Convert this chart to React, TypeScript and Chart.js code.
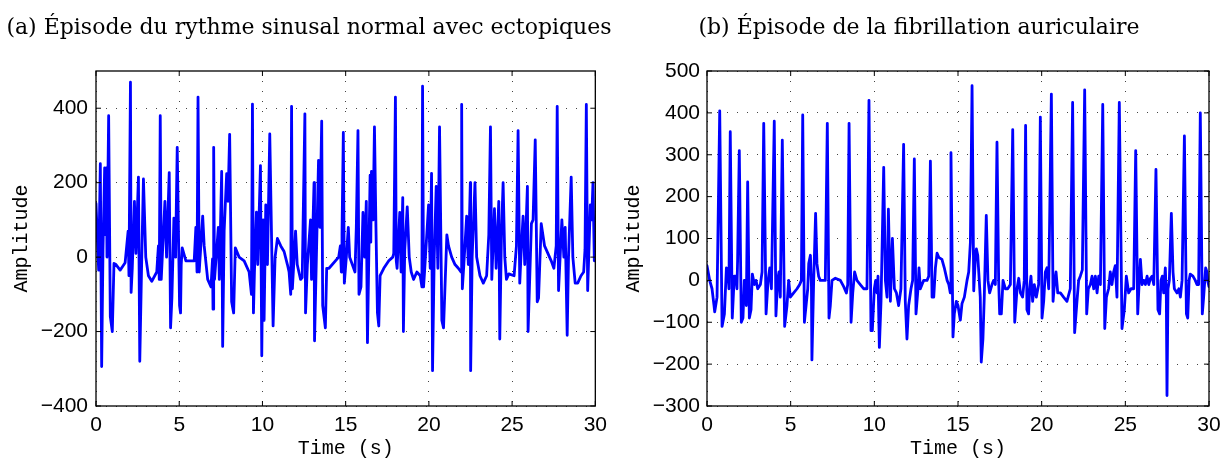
import React, { useEffect, useRef } from 'react';
import { Chart, registerables } from 'chart.js';

Chart.register(...registerables);

const titleA = '(a) Épisode du rythme sinusal normal avec ectopiques';
const titleB = '(b) Épisode de la fibrillation auriculaire';
const xLabel = 'Time (s)';
const yLabel = 'Amplitude';

const xTicks = [0, 5, 10, 15, 20, 25, 30];
const leftYTicks = [-400, -200, 0, 200, 400];
const rightYTicks = [-300, -200, -100, 0, 100, 200, 300, 400, 500];

const leftTime = [
  0, 0.16, 0.26, 0.34, 0.42, 0.52, 0.58, 0.62, 0.66, 0.76,
  0.86, 0.98, 1.08, 1.2, 1.45, 1.6, 1.75, 1.93, 1.98, 2.07,
  2.11, 2.18, 2.31, 2.4, 2.55, 2.63, 2.75, 2.85, 2.99, 3.15,
  3.35, 3.65, 3.75, 3.8, 3.86, 3.92, 4.14, 4.24, 4.4, 4.48,
  4.56, 4.68, 4.78, 4.88, 5.02, 5.08, 5.12, 5.18, 5.4, 5.9,
  6.0, 6.07, 6.13, 6.2, 6.41, 6.5, 6.71, 6.91, 7.0, 7.03,
  7.07, 7.12, 7.35, 7.41, 7.55, 7.61, 7.7, 7.85, 7.93, 8.03,
  8.15, 8.27, 8.37, 8.6, 8.9, 9.2, 9.34, 9.4, 9.46, 9.52,
  9.64, 9.72, 9.88, 9.96, 10.04, 10.1, 10.2, 10.3, 10.44, 10.64,
  10.76, 10.9, 11.1, 11.3, 11.5, 11.6, 11.7, 11.75, 11.8, 11.99,
  12.09, 12.29, 12.39, 12.55, 12.59, 12.7, 12.89, 12.95, 13.1, 13.13,
  13.37, 13.45, 13.56, 13.62, 13.78, 13.86, 14.0, 14.58, 14.68, 14.74,
  14.78, 14.86, 14.92, 15.04, 15.16, 15.24, 15.4, 15.56, 15.64, 15.74,
  15.8, 15.92, 16.04, 16.14, 16.24, 16.31, 16.39, 16.47, 16.51, 16.55,
  16.65, 16.73, 16.82, 16.91, 16.99, 17.07, 17.29, 17.59, 17.83, 17.89,
  17.99, 18.04, 18.09, 18.25, 18.33, 18.43, 18.47, 18.55, 18.7, 18.82,
  18.94, 19.08, 19.28, 19.48, 19.58, 19.62, 19.68, 19.74, 19.98, 20.08,
  20.16, 20.22, 20.32, 20.44, 20.54, 20.64, 20.78, 20.88, 21.08, 21.18,
  21.37, 21.57, 21.77, 21.93, 21.97, 22.01, 22.1, 22.27, 22.37, 22.49,
  22.51, 22.6, 22.77, 22.87, 23.07, 23.27, 23.47, 23.6, 23.7, 23.78,
  23.94, 24.04, 24.2, 24.26, 24.36, 24.46, 24.56, 24.66, 24.8, 25.12,
  25.26, 25.36, 25.46, 25.56, 25.66, 25.76, 25.92, 25.96, 26.16, 26.26,
  26.39, 26.51, 26.59, 26.75, 26.95, 27.15, 27.35, 27.51, 27.65, 27.71,
  27.79, 27.99, 28.11, 28.19, 28.31, 28.39, 28.55, 28.65, 28.79, 28.94,
  29.14, 29.3, 29.38, 29.46, 29.54, 29.7, 29.78, 29.86, 29.94, 30,
];
const leftAmp = [
  144, -35, 251, -294, 20, 240, 60, 240, 0, 380,
  -160, -200, -17, -20, -35, -25, -15, 70, -50, 470,
  -95, -30, 150, 10, 215, -280, 0, 210, 0, -50,
  -65, -40, 30, -60, 380, -60, 150, 0, 227, -190,
  -110, 105, 0, 295, -130, -150, -20, 25, -10, -10,
  80, -40, 430, -40, 110, 30, -60, -80, -5, -140,
  295, -60, 80, -60, 230, -240, 70, 224, 150, 330,
  -120, -150, 25, 0, -10, -40, -100, 411, -150, -40,
  121, -20, 246, -265, 100, -170, 140, -20, 331, -185,
  0, 50, 30, 15, -20, -40, -100, 405, -85, 70,
  -20, -60, -55, 385, -150, -20, 100, -60, 200, -225,
  260, 80, 365, -130, -190, -30, -30, 0, 30, -40,
  60, 335, -70, 0, 80, 0, -20, -40, 80, 340,
  -100, -80, 120, 0, 150, -230, 0, 220, 40, 230,
  100, 350, 80, -150, -185, -50, -30, -10, 0, 10,
  430, -10, -30, 120, -40, 160, -200, 20, 135, 0,
  -40, -60, -40, -50, -80, 459, -80, -40, 140, -30,
  225, -305, 0, 190, -30, 350, -170, -190, 60, 30,
  0, -20, -30, -40, 410, -85, -20, 110, -20, 200,
  -305, 0, 200, 0, -50, -70, -50, 60, 350, -60,
  130, -30, 150, -220, 60, 200, 0, -60, -45, -50,
  30, 340, -70, 30, 110, -20, 190, -200, 90, 100,
  315, -120, -110, 90, 30, 10, -10, -30, 30, 405,
  -90, 100, 0, 80, -210, 0, 215, 0, -70, -70,
  -50, -40, 20, 410, -90, 140, 100, 200, -10, 0,
];

const rightTime = [
  0, 0.16, 0.3, 0.42, 0.46, 0.6, 0.76, 0.9, 1.04, 1.16,
  1.25, 1.31, 1.39, 1.51, 1.63, 1.73, 1.79, 1.83, 1.93, 2.05,
  2.15, 2.23, 2.31, 2.35, 2.43, 2.53, 2.63, 2.71, 2.83, 2.93,
  3.03, 3.19, 3.29, 3.39, 3.53, 3.65, 3.75, 3.85, 4.02, 4.12,
  4.22, 4.3, 4.38, 4.5, 4.64, 4.78, 4.88, 4.98, 5.18, 5.38,
  5.54, 5.64, 5.72, 5.82, 5.92, 6.02, 6.08, 6.18, 6.24, 6.27,
  6.37, 6.49, 6.57, 6.67, 6.77, 7.07, 7.19, 7.29, 7.37, 7.47,
  7.67, 7.97, 8.17, 8.33, 8.41, 8.49, 8.61, 8.71, 8.82, 8.96,
  9.16, 9.26, 9.36, 9.56, 9.68, 9.8, 9.88, 10.0, 10.08, 10.16,
  10.22, 10.3, 10.4, 10.56, 10.66, 10.76, 10.84, 10.96, 11.08, 11.2,
  11.32, 11.45, 11.59, 11.75, 11.85, 11.95, 12.05, 12.19, 12.29, 12.39,
  12.49, 12.61, 12.67, 12.75, 12.85, 12.95, 13.15, 13.25, 13.35, 13.45,
  13.55, 13.65, 13.75, 13.85, 14.04, 14.18, 14.35, 14.45, 14.54, 14.58,
  14.7, 14.78, 14.9, 15.0, 15.14, 15.24, 15.38, 15.54, 15.64, 15.74,
  15.84, 15.94, 16.04, 16.1, 16.18, 16.24, 16.33, 16.39, 16.49, 16.57,
  16.69, 16.79, 16.89, 17.03, 17.13, 17.23, 17.33, 17.43, 17.49, 17.59,
  17.69, 17.83, 17.97, 18.13, 18.27, 18.39, 18.53, 18.63, 18.73, 18.86,
  18.96, 19.04, 19.12, 19.22, 19.28, 19.36, 19.46, 19.56, 19.68, 19.82,
  19.92, 20.02, 20.12, 20.22, 20.32, 20.42, 20.58, 20.68, 20.76, 20.86,
  20.96, 21.12, 21.31, 21.51, 21.71, 21.85, 21.97, 22.11, 22.21, 22.31,
  22.43, 22.57, 22.69, 22.79, 22.91, 23.01, 23.11, 23.21, 23.31, 23.41,
  23.51, 23.65, 23.77, 23.87, 24.0, 24.1, 24.2, 24.3, 24.4, 24.5,
  24.64, 24.8, 24.94, 25.06, 25.2, 25.34, 25.5, 25.62, 25.74, 25.82,
  25.9, 26.0, 26.1, 26.2, 26.3, 26.4, 26.5, 26.6, 26.7, 26.83,
  26.95, 27.05, 27.13, 27.21, 27.29, 27.39, 27.45, 27.49, 27.55, 27.63,
  27.75, 27.85, 27.93, 28.09, 28.2, 28.29, 28.39, 28.53, 28.65, 28.73,
  28.81, 28.88, 29.04, 29.18, 29.28, 29.38, 29.48, 29.6, 29.68, 29.8,
  29.88, 29.92, 30,
];
const rightAmp = [
  35, 0, -20, -60, -75, -40, 405, -110, -80, 30,
  25, -20, 355, -90, 10, 10, -20, 50, 310, -100,
  -90, 0, 0, -60, 235, -90, -70, 15, -10, 0,
  -20, -10, 20, 375, -80, 0, 30, -20, 380, -85,
  0, 20, -40, 335, -110, -60, 0, -40, -30, -20,
  -10, 0, 395, -100, -60, -20, 40, 60, -10, -190,
  -10, 160, 40, 10, 0, 0, 375, -90, -60, 0,
  5, 0, -15, -30, -10, 375, -100, -30, 20, 0,
  -10, -15, -20, -20, 430, -120, -120, -20, 0, -30,
  10, -160, -50, 270, 0, -40, 170, -50, 100, -20,
  -30, -60, -20, 325, -50, -140, -60, -20, 0, 290,
  -80, -20, 30, -20, -10, 0, 0, 10, 285, -40,
  -40, 30, 65, 55, 50, 30, 0, -10, -30, 305,
  -135, -80, -50, -60, -95, -55, -40, 0, 20, 90,
  465, -25, 55, 75, 60, 20, -40, -195, -140, -40,
  155, 0, -30, -10, 0, -10, 330, 0, -80, -80,
  0, -20, -20, -10, 360, -100, -20, 5, -30, -40,
  0, 370, -70, -80, -20, 10, -50, -10, -40, -10,
  390, -90, -50, 20, 30, -20, 445, -50, -10, 20,
  -30, -30, -40, -50, -20, 425, -125, -50, 0, 10,
  25, 455, -80, -20, -10, 10, -20, 10, -30, 10,
  -10, 420, -115, -40, -20, 20, -10, 20, 35, -40,
  425, -115, -70, 10, -30, -20, -20, 310, -80, -10,
  50, -10, 0, -10, 10, -10, 5, 10, -10, 265,
  -70, -80, 0, 10, -30, 30, -40, -275, -20, 0,
  160, 20, -20, -30, -20, -40, 0, 345, -80, -90,
  0, 15, 10, 0, -10, -10, 400, -80, -40, 30,
  20, 0, -15,
];

const fmt = (v: number) => (v < 0 ? '\u2212' + Math.abs(v) : String(v));

const boxPlugin = {
  id: 'matlabBox',
  afterDatasetsDraw(chart: any) {
    const { ctx, chartArea } = chart;
    const { left, right, top, bottom } = chartArea;
    const xs = chart.scales.x;
    const ys = chart.scales.y;
    ctx.save();
    ctx.setLineDash([]);
    ctx.strokeStyle = '#000';
    ctx.lineWidth = 1;
    const L = 5;
    ctx.beginPath();
    xs.ticks.forEach((t: any) => {
      const px = xs.getPixelForValue(t.value);
      ctx.moveTo(px, bottom);
      ctx.lineTo(px, bottom - L);
      ctx.moveTo(px, top);
      ctx.lineTo(px, top + L);
    });
    ys.ticks.forEach((t: any) => {
      const py = ys.getPixelForValue(t.value);
      ctx.moveTo(left, py);
      ctx.lineTo(left + L, py);
      ctx.moveTo(right, py);
      ctx.lineTo(right - L, py);
    });
    ctx.stroke();
    ctx.lineWidth = 1.3;
    ctx.strokeRect(left, top, right - left, bottom - top);
    ctx.restore();
  },
};

type PanelProps = {
  time: number[];
  amp: number[];
  yMin: number;
  yMax: number;
  yTicks: number[];
  axisWidth: number;
  padRight: number;
  yTitlePad: number;
  tickPad: number;
};

function Panel(p: PanelProps) {
  const ref = useRef<HTMLCanvasElement | null>(null);
  useEffect(() => {
    if (!ref.current) return;
    const tickFont = { family: '"Liberation Sans", Arial, sans-serif', size: 21 };
    const titleFont = { family: '"Liberation Mono", "Courier New", monospace', size: 20, lineHeight: 1 };
    const chart = new Chart(ref.current, {
      type: 'line',
      data: {
        datasets: [
          {
            data: p.time.map((t, i) => ({ x: t, y: p.amp[i] })),
            borderColor: '#0000ff',
            borderWidth: 2.8,
            pointRadius: 0,
            tension: 0,
            borderJoinStyle: 'round',
            borderCapStyle: 'round',
            fill: false,
          },
        ],
      },
      options: {
        responsive: false,
        animation: false,
        devicePixelRatio: 1,
        layout: { padding: { left: 0, right: p.padRight, top: 71, bottom: 0 } },
        plugins: { legend: { display: false }, tooltip: { enabled: false }, title: { display: false } },
        scales: {
          x: {
            type: 'linear',
            min: 0,
            max: 30,
            afterBuildTicks: (s: any) => {
              s.ticks = xTicks.map((v) => ({ value: v }));
            },
            afterFit: (s: any) => {
              s.height = 53;
            },
            ticks: { font: tickFont, color: '#000', padding: 7, maxRotation: 0, callback: (v: any) => fmt(Number(v)) },
            grid: { color: '#444', lineWidth: 1, drawTicks: false },
            border: { display: false, dash: [1, 9] },
            title: { display: true, text: xLabel, font: titleFont, color: '#000', padding: { top: 0, bottom: 0 } },
          },
          y: {
            type: 'linear',
            min: p.yMin,
            max: p.yMax,
            afterBuildTicks: (s: any) => {
              s.ticks = p.yTicks.map((v) => ({ value: v }));
            },
            afterFit: (s: any) => {
              s.width = p.axisWidth;
            },
            ticks: { font: tickFont, color: '#000', padding: p.tickPad, callback: (v: any) => fmt(Number(v)) },
            grid: { color: '#444', lineWidth: 1, drawTicks: false },
            border: { display: false, dash: [1, 9] },
            title: { display: true, text: yLabel, font: titleFont, color: '#000', padding: { top: p.yTitlePad, bottom: 0 } },
          },
        },
      } as any,
      plugins: [boxPlugin],
    });
    return () => chart.destroy();
  }, []);
  return <canvas ref={ref} width={614} height={459} style={{ display: 'block', width: 614, height: 459 }} />;
}

const titleStyle: React.CSSProperties = {
  position: 'absolute',
  top: 16,
  textAlign: 'center',
  fontFamily: '"DejaVu Serif", serif',
  fontSize: 22,
  lineHeight: '22px',
  whiteSpace: 'nowrap',
  color: '#000',
};

export default function App() {
  return (
    <div style={{ position: 'absolute', left: 0, top: 0, width: 1228, height: 459, background: '#fff', overflow: 'hidden' }}>
      <div style={{ position: 'absolute', left: 0, top: 0 }}>
        <Panel time={leftTime} amp={leftAmp} yMin={-400} yMax={500} yTicks={leftYTicks} axisWidth={96} padRight={16} yTitlePad={12} tickPad={8} />
      </div>
      <div style={{ position: 'absolute', left: 614, top: 0 }}>
        <Panel time={rightTime} amp={rightAmp} yMin={-300} yMax={500} yTicks={rightYTicks} axisWidth={93} padRight={19} yTitlePad={9.5} tickPad={7} />
      </div>
      <div style={{ ...titleStyle, left: 0, width: 618 }}>{titleA}</div>
      <div style={{ ...titleStyle, left: 614, width: 610 }}>{titleB}</div>
    </div>
  );
}
